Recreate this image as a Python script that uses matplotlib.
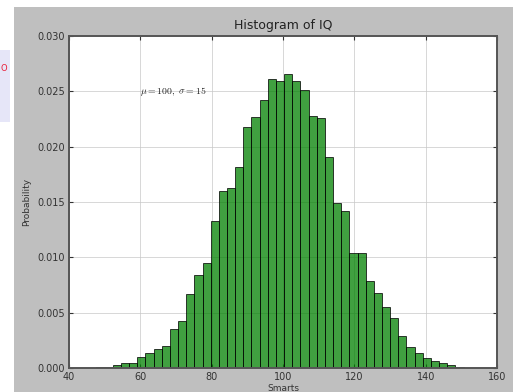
import matplotlib
matplotlib.use("Agg")
import matplotlib.pyplot as plt
from matplotlib.patches import Rectangle
import numpy as np

plt.rcParams['mathtext.fontset'] = 'cm'

# IQ histogram, 50 bins, densities
bin_edges = np.linspace(40.84, 155.2, 51)
density = [0.00004, 0.0, 0.00004, 0.00009, 0.00013,
           0.00027, 0.00042, 0.00048, 0.00097, 0.00133,
           0.00169, 0.00199, 0.00352, 0.00425, 0.00666,
           0.0084, 0.0095, 0.0133, 0.0160, 0.01624,
           0.01813, 0.0218, 0.0227, 0.0242, 0.0261,
           0.0259, 0.0266, 0.0259, 0.0251, 0.0228,
           0.0226, 0.01909, 0.01491, 0.01419, 0.01042,
           0.01042, 0.00786, 0.0068, 0.00548, 0.00454,
           0.00289, 0.00187, 0.00138, 0.00088, 0.00066,
           0.00042, 0.00027, 0.00012, 0.00004, 0.00004]
x_ticks = [40, 60, 80, 100, 120, 140, 160]
y_ticks = [0.000, 0.005, 0.010, 0.015, 0.020, 0.025, 0.030]

centers = (bin_edges[:-1] + bin_edges[1:]) / 2

fig = plt.figure(figsize=(5.23, 3.92), dpi=100, facecolor='white')
# grey figure background of the old screenshot
fig.patches.append(Rectangle((0.0268, 0.0), 0.9541, 0.9821, transform=fig.transFigure,
                             facecolor='#bfbfbf', edgecolor='none', zorder=-10))
# little box on the left edge
fig.patches.append(Rectangle((0.0, 0.689), 0.019, 0.183, transform=fig.transFigure,
                             facecolor='#e6e6f8', edgecolor='none', zorder=-10))
fig.text(0.001, 0.826, 'O', color='#e8203a', fontsize=6, va='center', ha='left')

ax = fig.add_axes([0.1319, 0.0612, 0.8184, 0.847])
ax.set_facecolor('white')
ax.hist(centers, bins=bin_edges, weights=density, facecolor='green',
        edgecolor='black', alpha=0.75, linewidth=0.7, zorder=2)

ax.set_xlim(40, 160)
ax.set_ylim(0, 0.03)
ax.set_xticks(x_ticks)
ax.set_yticks(y_ticks)
ax.set_yticklabels(['%.3f' % v for v in y_ticks])
ax.tick_params(direction='in', labelsize=7, colors='#333333', length=3,
               top=True, right=True, pad=3)
ax.grid(True, color='#c8c8c8', linestyle='-', linewidth=0.5, zorder=0)
ax.set_axisbelow(True)
for s in ax.spines.values():
    s.set_color('#555555')
    s.set_linewidth(1.4)

ax.set_title('Histogram of IQ', fontsize=9, color='#222222', pad=5)
ax.set_xlabel('Smarts', fontsize=6.5, color='#333333', labelpad=1)
ax.set_ylabel('Probability', fontsize=6.5, color='#333333', labelpad=4)
ax.text(60, .025, r'$\mu=100,\ \sigma=15$', fontsize=7, color='#222222',
        va='center')

fig.savefig('out.png', dpi=100)
